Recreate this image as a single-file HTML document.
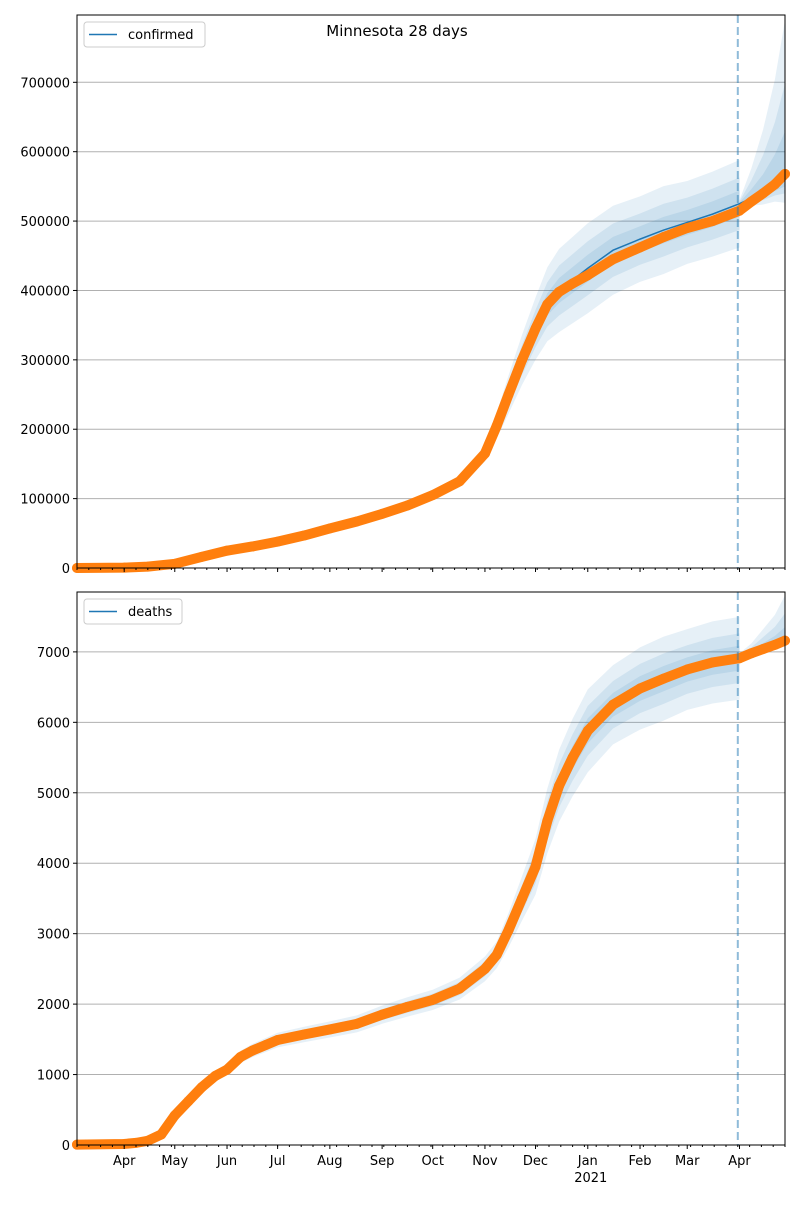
<!DOCTYPE html>
<html><head><meta charset="utf-8"><style>
body{margin:0;background:#fff;font-family:"Liberation Sans","DejaVu Sans",sans-serif;}
svg text{font-family:"DejaVu Sans","Liberation Sans",sans-serif;}
</style></head><body>
<svg id="chart" width="800" height="1200" viewBox="0 0 800 1200" xmlns="http://www.w3.org/2000/svg">
<rect width="800" height="1200" fill="#fff"/>
<text x="397" y="36" font-size="15" text-anchor="middle">Minnesota 28 days</text>
</svg>
<script>
// x: day offset from 2020-03-04
const monthDays = [28,58,89,119,150,181,211,242,272,303,334,362,393];
const monthLabels = ["Apr","May","Jun","Jul","Aug","Sep","Oct","Nov","Dec","Jan","Feb","Mar","Apr"];
const forecastStartDay = 392;
const histDays = [0,28,42,58,74,89,104,119,135,150,166,181,196,211,227,242,249,256,264,272,279,286,294,303,318,334,348,362,377,393];
const fcDays = [393,400,407,414,420];
const confObs = [0,500,2000,6000,16000,25000,31000,38000,47000,57000,67000,78000,90000,105000,125000,165000,205000,250000,300000,345000,380000,398000,410000,422000,445000,462000,477000,490000,500000,515000];
const confObsFc = [515000,528000,540000,553000,568000];
const confModel = [0,500,2000,6000,16000,25000,31000,38000,47000,57000,67000,78000,90000,105000,125000,165000,205000,250000,300000,345000,380000,400000,415000,432000,458000,474000,487000,498000,510000,525000];
const confModelFc = [525000,533000,540000,550000,560000];
const confSpread = [0.02,0.02,0.02,0.03,0.04,0.05,0.05,0.06,0.06,0.06,0.06,0.06,0.06,0.06,0.07,0.07,0.09,0.11,0.12,0.13,0.14,0.15,0.15,0.15,0.14,0.13,0.13,0.12,0.12,0.12];
const confFcHi = [0.01,0.08,0.17,0.28,0.41];
const confFcLo = [0.01,0.02,0.03,0.04,0.06];
const deathDays = [0,28,35,42,50,58,66,74,82,89,97,104,112,119,135,150,166,181,196,211,227,242,249,256,264,272,279,286,294,303,318,334,348,362,377,393];
const deathFcDays = [393,400,407,414,420];
const deathObs = [5,15,30,60,150,420,620,820,980,1070,1250,1340,1420,1490,1570,1640,1720,1850,1960,2060,2220,2500,2700,3050,3500,3950,4600,5100,5500,5880,6250,6480,6620,6750,6850,6910];
const deathObsFc = [6910,6980,7040,7100,7160];
const deathSpread = [0.02,0.03,0.04,0.06,0.07,0.07,0.07,0.07,0.07,0.07,0.07,0.07,0.07,0.07,0.07,0.07,0.07,0.07,0.07,0.07,0.07,0.07,0.07,0.08,0.09,0.1,0.1,0.1,0.1,0.1,0.09,0.09,0.09,0.085,0.085,0.085];
const deathFcHi = [0.01,0.02,0.04,0.06,0.09];
const deathFcLo = [0.01,0.005,0.005,0.008,0.01];
const confTicks = [0,100000,200000,300000,400000,500000,600000,700000];
const deathTicks = [0,1000,2000,3000,4000,5000,6000,7000];

const svg = document.getElementById('chart');
const NS = 'http://www.w3.org/2000/svg';
const X0 = 77, X1 = 785, DMAX = 420;
const xs = d => X0 + d * (X1 - X0) / DMAX;
function mk(tag, attrs, parent){ const e=document.createElementNS(NS,tag); for(const k in attrs) e.setAttribute(k,attrs[k]); (parent||svg).appendChild(e); return e; }

function panel(cfg){
  const g = mk('g',{});
  
  
  const ys = v => cfg.yb - (v - 0) * (cfg.yb - cfg.yt) / cfg.ymax;
  // grid
  cfg.ticks.forEach(t=>{
    const y = ys(t);
    if (t>0){ const l=mk('line',{x1:X0,x2:X1,y1:y,y2:y,stroke:'#b0b0b0','stroke-width':1},g);
        }
    mk('line',{x1:X0-4,x2:X0,y1:y,y2:y,stroke:'#000'},g);
    const tx = mk('text',{x:X0-7,y:y+5,'font-size':13,'text-anchor':'end'},g);
    tx.textContent = t;
     
  });
  // bands
  const bandPath = (days, mid, loF, hiF) => {
    let up = days.map((d,i)=>xs(d)+','+ys(mid[i]*(1+hiF[i]))).join(' L');
    let lo = days.map((d,i)=>xs(d)+','+ys(mid[i]*(1-loF[i]))).reverse().join(' L');
    return 'M'+up+' L'+lo+' Z';
  };
  [1,0.6,0.3].forEach(k=>{
    const sp = cfg.spread.map(s=>s*k);
    const p = mk('path',{d:bandPath(cfg.days,cfg.model,sp,sp),fill:'#1f77b4','fill-opacity':0.11},g);
     
    const hi = cfg.fcHi.map(s=>s*k), lo = cfg.fcLo.map(s=>s*k);
    const p2 = mk('path',{d:bandPath(cfg.fcDays,cfg.modelFc,lo,hi),fill:'#1f77b4','fill-opacity':0.11},g);
     
  });
  // model line
  const allD = cfg.days.concat(cfg.fcDays.slice(1)), allM = cfg.model.concat(cfg.modelFc.slice(1));
  const ml = mk('polyline',{points:allD.map((d,i)=>xs(d)+','+ys(allM[i])).join(' '),fill:'none',stroke:'#1f77b4','stroke-width':1.5},g);
   
  // observations
  const oD = cfg.obsDays.concat(cfg.fcDays.slice(1)), oV = cfg.obs.concat(cfg.obsFc.slice(1));
  const ol = mk('polyline',{points:oD.map((d,i)=>xs(d)+','+ys(oV[i])).join(' '),fill:'none',stroke:'#ff7f0e','stroke-width':10,'stroke-linejoin':'round','stroke-linecap':'round'},g);
   
  oD.forEach((d,i)=>{ const c=mk('circle',{cx:xs(d),cy:ys(oV[i]),r:5,fill:'#ff7f0e'},g);
      });
  // forecast divider
  const dl = mk('line',{x1:xs(forecastStartDay),x2:xs(forecastStartDay),y1:cfg.yt,y2:cfg.yb,stroke:'#1f77b4','stroke-opacity':0.5,'stroke-width':2,'stroke-dasharray':'8,4'},g);
   
  // frame
  const fr = mk('rect',{x:X0,y:cfg.yt,width:X1-X0,height:cfg.yb-cfg.yt,fill:'none',stroke:'#000','stroke-width':1},g);
   
  // x ticks
  for(let d=0; d<=DMAX; d+=7) mk('line',{x1:xs(d),x2:xs(d),y1:cfg.yb,y2:cfg.yb+2,stroke:'#000'},g);
  monthDays.forEach((d,i)=>{
    mk('line',{x1:xs(d),x2:xs(d),y1:cfg.yb,y2:cfg.yb+4,stroke:'#000'},g);
    if(cfg.labels){
      const t = mk('text',{x:xs(d)-(i==12?0:0),y:cfg.yb+20,'font-size':13,'text-anchor':'middle'},g);
      t.textContent = monthLabels[i];
       
    }
  });
  if(cfg.labels){
    const t = mk('text',{x:xs(303)+3,y:cfg.yb+37,'font-size':13,'text-anchor':'middle'},g);
    t.textContent='2021';
     
  }
  // legend
  const lg = mk('g',{},g);
   
  mk('rect',{x:84,y:cfg.yt+7,width:cfg.legW,height:25,rx:3,fill:'#fff','fill-opacity':0.8,stroke:'#ccc'},lg);
  mk('line',{x1:89,x2:117,y1:cfg.yt+19.5,y2:cfg.yt+19.5,stroke:'#1f77b4','stroke-width':1.5},lg);
  const lt = mk('text',{x:128,y:cfg.yt+24,'font-size':13},lg);
  lt.textContent = cfg.legend;
   
}

panel({name:'confirmed-panel',yt:15,yb:568,ymax:797000,ticks:confTicks,days:histDays,model:confModel,spread:confSpread,
  fcDays:fcDays,modelFc:confModelFc,fcHi:confFcHi,fcLo:confFcLo,obsDays:histDays,obs:confObs,obsFc:confObsFc,labels:false,legend:'confirmed',legW:121});
panel({name:'deaths-panel',yt:592,yb:1145,ymax:7850,ticks:deathTicks,days:deathDays,model:deathObs,spread:deathSpread,
  fcDays:deathFcDays,modelFc:deathObsFc,fcHi:deathFcHi,fcLo:deathFcLo,obsDays:deathDays,obs:deathObs,obsFc:deathObsFc,labels:true,legend:'deaths',legW:98});
</script>
</body></html>
